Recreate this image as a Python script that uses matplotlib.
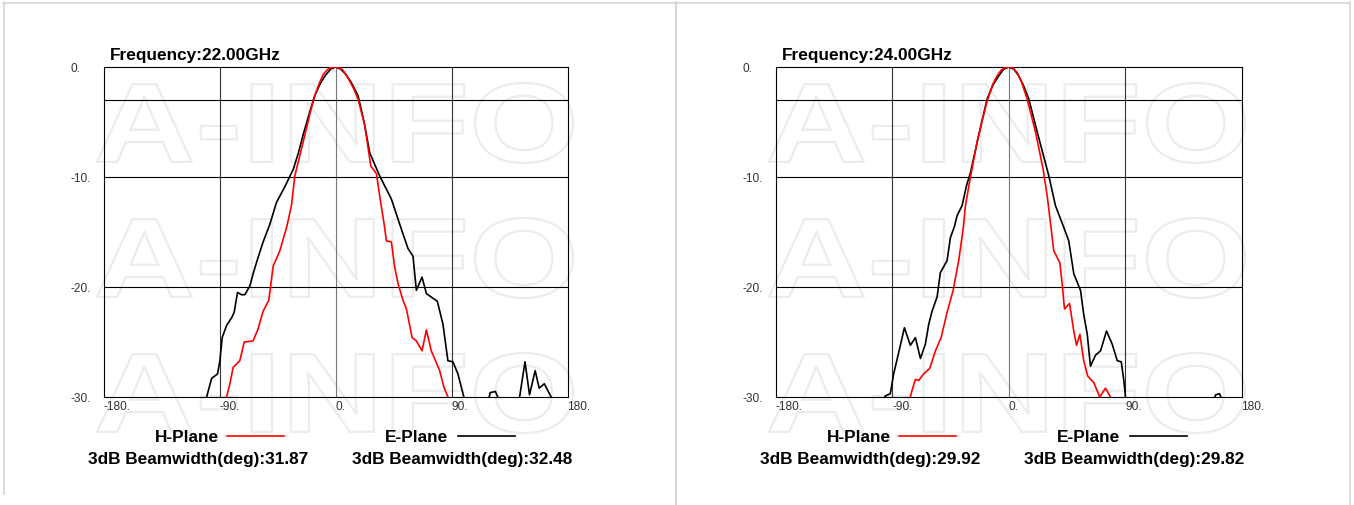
import matplotlib
matplotlib.use("Agg")
import matplotlib.pyplot as plt
from matplotlib.font_manager import FontProperties
from matplotlib.patches import PathPatch
from matplotlib.textpath import TextPath
from matplotlib.transforms import Affine2D

plt.rcParams["font.family"] = ["Liberation Sans", "DejaVu Sans"]

W, H = 1354, 506

# --- 22 GHz ---
h22_ang = [-88, -84.8, -82.2, -79.7, -74.5, -71.1, -64.2, -60.3, -56.4, -52, -48.6,
           -43.4, -38, -34.4, -31.8, -24, -20, -16.3, -12.5, -9.8, -7, -4, 0, 3, 5.7,
           8.5, 11, 14, 17.3, 22.5, 27.2, 31.6, 34.1, 38, 39.3, 43.2, 45.8, 48.4, 52.2,
           54.9, 59.3, 62.6, 67, 70.4, 74.2, 80.7, 84, 87.1, 90]
h22_db = [-33, -30, -28.8, -27.3, -26.7, -25, -24.9, -23.8, -22.2, -21.2, -18.1,
          -16.7, -14.5, -12.6, -9.9, -6.2, -4.2, -2.6, -1.4, -0.7, -0.3, -0.05, 0, -0.05, -0.3,
          -0.8, -1.3, -2.0, -2.9, -5.3, -9.0, -9.7, -11.7, -14.6, -15.8, -15.9, -18.2, -19.7, -21.2,
          -22, -24.6, -24.9, -25.8, -23.9, -25.8, -27.6, -29.1, -30, -33]
e22_ang = [-106, -100.3, -96.4, -91.8, -90, -88.2, -84.8, -80.9, -78.9, -76.3, -73.2,
           -70.6, -66.7, -64.2, -60.3, -56.4, -51.2, -46, -39.6, -33, -29, -25.4, -21,
           -16.3, -12, -8, -4, 0, 4, 8, 12, 17.3, 22, 26.4, 34.1, 43.2, 49.7, 56.1, 60,
           62.6, 67, 70.4, 78.9, 83.3, 87.1, 91, 94.9, 99.5, 102, 117, 120, 124, 127, 140,
           142.8, 147, 150.5, 154.9, 158, 162, 167.3, 170]
e22_db = [-33, -30, -28.3, -27.9, -26.7, -24.6, -23.5, -22.8, -22.3, -20.5, -20.7,
          -20.7, -19.9, -18.8, -17.3, -15.9, -14.3, -12.3, -10.9, -9.3, -7.8, -6.2, -4.4,
          -2.6, -1.5, -0.75, -0.2, 0, -0.2, -0.7, -1.4, -2.6, -5.0, -7.8, -9.9, -12, -14.3, -16.5, -17.2,
          -20.3, -19.1, -20.6, -21.3, -23.4, -26.7, -26.8, -27.9, -30, -33, -31, -29.6, -29.5, -30.3, -33,
          -30, -26.8, -29.8, -27.6, -29.2, -28.8, -30, -33]

# --- 24 GHz ---
h24_ang = [-80, -76.1, -74.8, -72.2, -69.7, -65.8, -61.1, -56.7, -52.3, -47.7, -43,
           -38.7, -35, -33.5, -29.6, -24.5, -20.5, -16.7, -12.5, -9, -6, -3, 0, 3, 6.5,
           10, 14.2, 20.7, 26.6, 29.7, 32.6, 34.8, 39.5, 41.3, 43.1, 47, 50.3, 52.4, 55,
           58, 61.1, 65.8, 70.4, 74.8, 78.7, 81]
h24_db = [-33, -30, -29.4, -28.4, -28.5, -27.9, -27.4, -25.8, -24.6, -22.3, -20.3,
          -17.6, -14.5, -12.6, -10, -6.8, -4.8, -3.1, -1.6, -0.8, -0.3, -0.05, 0, -0.05, -0.5,
          -1.4, -2.9, -5.9, -9.3, -11.7, -14.5, -16.7, -17.8, -19.7, -22, -21.5, -24, -25.3, -24.3,
          -26.7, -28.1, -28.7, -30, -29.2, -30, -33]
e24_ang = [-100, -95.4, -91.6, -89, -84.4, -80.7, -76.1, -72.2, -68.3, -64.5, -61.9,
           -59.3, -55.4, -52.9, -47.7, -45.1, -42, -39.9, -36.1, -32.7, -29.6, -23.2, -16.7,
           -12, -7.7, -4, 0, 4, 7.7, 11.5, 15.5, 22, 31, 36.1, 42.3, 46.4, 50.3, 55.5, 58,
           60.7, 63.2, 67.1, 71, 75.6, 80, 83.9, 87, 89, 90.3, 93, 157, 160, 163, 166]
e24_db = [-31, -29.9, -29.7, -27.9, -25.6, -23.7, -25.3, -24.6, -26.5, -25.2, -23.4,
          -22.2, -20.9, -18.7, -17.6, -15.5, -14.5, -13.5, -12.6, -10.8, -9.6, -6.2, -2.9,
          -1.6, -0.8, -0.2, 0, -0.2, -0.8, -1.7, -2.9, -5.9, -9.9, -12.6, -14.5, -15.8, -18.8, -20.3, -22.5,
          -24.3, -27.2, -26.2, -25.8, -24, -25.2, -26.7, -26.8, -28.5, -30, -33, -31, -29.8, -29.7, -30.5]

freqs = ["22.00", "24.00"]
h_bw = ["31.87", "29.92"]
e_bw = ["32.48", "29.82"]

x_ticks = [-180, -90, 0, 90, 180]
x_labels = ["-180.", "-90.", "0.", "90.", "180."]
y_ticks = [0, -10, -20, -30]
y_labels = ["0.", "-10.", "-20.", "-30."]
grid_x = [-90, 0, 90]
grid_y = [-3, -10, -20]

panels = [
    (h22_ang, h22_db, e22_ang, e22_db),
    (h24_ang, h24_db, e24_ang, e24_db),
]

fig = plt.figure(figsize=(W / 100, H / 100), dpi=100)

# pixel-space background layer for borders, watermark and legend
bg = fig.add_axes([0, 0, 1, 1], zorder=-1)
bg.set_xlim(0, W)
bg.set_ylim(H, 0)
bg.axis("off")

border = "#d6d6d6"
bg.plot([3, 1350], [3.5, 3.5], color=border, lw=1.2)
bg.plot([3.5, 3.5], [3, 495], color=border, lw=1.2)
bg.plot([676, 676], [3, 506], color=border, lw=1.5)
bg.plot([1349.5, 1349.5], [3, 506], color=border, lw=1.2)

# outlined watermark
wm = TextPath((0, 0), "A-INFO", size=100,
              prop=FontProperties(family="Liberation Sans", weight="bold"))
ext = wm.get_extents()

bold = dict(fontsize=12.4, fontweight="bold", color="black")
ax_left = [104, 776]
ax_right = [567.5, 1241.5]

for i, (ha, hd, ea, ed) in enumerate(panels):
    off = ax_left[i] - 104
    for top in [84, 219, 354]:
        sx = 476 / ext.width
        sy = 80 / ext.height
        tr = (Affine2D().translate(-ext.x0, -ext.y0).scale(sx, -sy)
              .translate(97 + off, top + 80)) + bg.transData
        bg.add_patch(PathPatch(wm, transform=tr, facecolor="none",
                               edgecolor="#ececec", lw=1.6))

    bg.text(110 + off, 60, f"Frequency:{freqs[i]}GHz", ha="left", va="baseline", **bold)
    bg.text(155 + off, 442, "H-Plane", ha="left", va="baseline", **bold)
    bg.plot([227 + off, 284 + off], [437, 437], color="#ff0000", lw=1.2)
    bg.text(385 + off, 442, "E-Plane", ha="left", va="baseline", **bold)
    bg.plot([458 + off, 515 + off], [437, 437], color="black", lw=1.2)
    bg.text(88 + off, 464, f"3dB Beamwidth(deg):{h_bw[i]}", ha="left", va="baseline", **bold)
    bg.text(352 + off, 464, f"3dB Beamwidth(deg):{e_bw[i]}", ha="left", va="baseline", **bold)

    l = ax_left[i] / W
    w = (ax_right[i] - ax_left[i]) / W
    ax = fig.add_axes([l, 1 - 398 / H, w, 330 / H])
    ax.set_facecolor("none")
    ax.set_xlim(-180, 180)
    ax.set_ylim(-30, 0)

    for gx in grid_x:
        ax.axvline(gx, color="#777777" if gx == 0 else "#333333", lw=0.8, zorder=1)
    for gy in grid_y:
        ax.axhline(gy, color="black", lw=0.8, zorder=1)
    for s in ax.spines.values():
        s.set_color("black")
        s.set_linewidth(0.8)

    ax.plot(ea, ed, color="black", lw=1.2, zorder=3)
    ax.plot(ha, hd, color="#ff0000", lw=1.2, zorder=4)

    ax.set_xticks(x_ticks, x_labels)
    ax.set_yticks(y_ticks, y_labels)
    ax.tick_params(length=0, labelsize=8.6, labelcolor="#333333")
    ax.tick_params(axis="x", pad=2)
    ax.tick_params(axis="y", pad=24)
    for t in ax.get_xticklabels():
        t.set_ha("left")
    for t in ax.get_yticklabels():
        t.set_ha("left")

fig.savefig("out.png", dpi=100, facecolor="white")
